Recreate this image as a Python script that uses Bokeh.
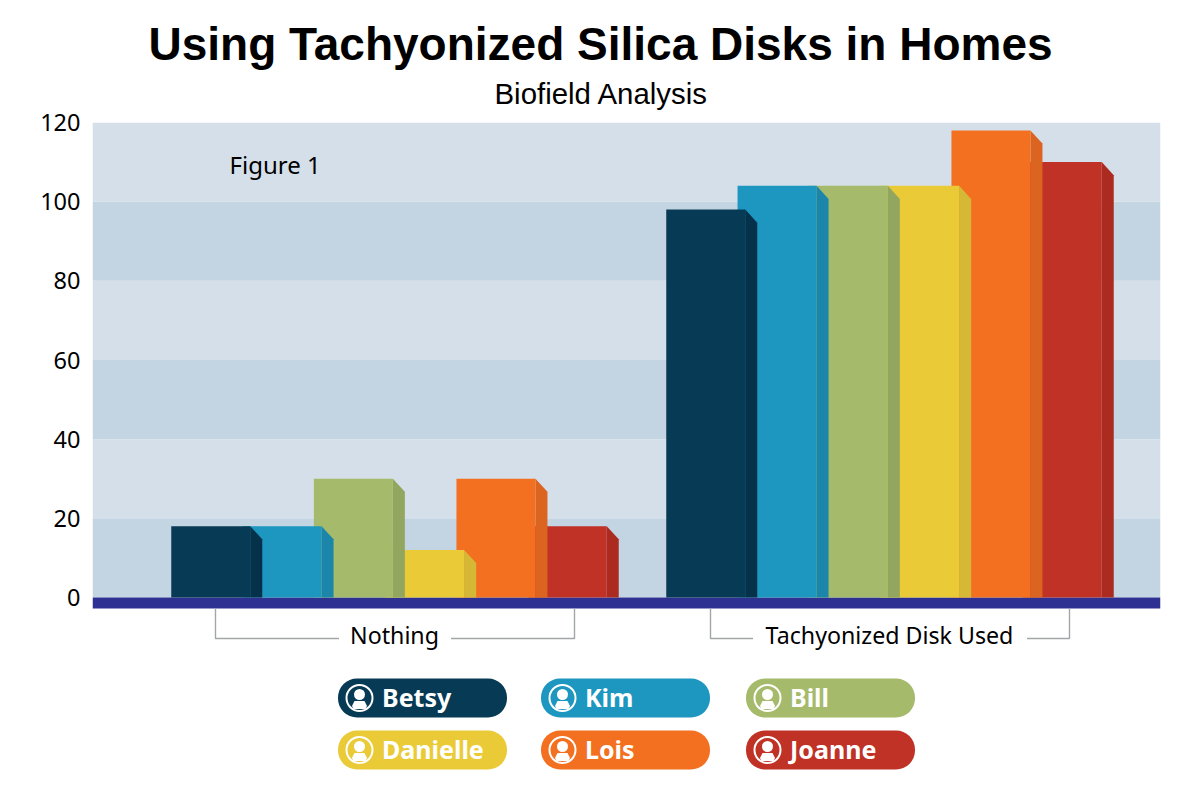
from bokeh.plotting import figure
from bokeh.models import Range1d, Title, FixedTicker
from bokeh.core.properties import value
from bokeh.embed import file_html
from bokeh.resources import INLINE

# --- data -------------------------------------------------------------
GROUPS = ["Nothing", "Tachyonized Disk Used"]
PEOPLE = ["Betsy", "Kim", "Bill", "Danielle", "Lois", "Joanne"]
NOTHING = [18, 18, 30, 12, 30, 18]
DISK_USED = [98, 104, 104, 104, 118, 110]
Y_TICKS = [0, 20, 40, 60, 80, 100, 120]

FRONT = ["#073a54", "#1d96c0", "#a5ba6a", "#eacb37", "#f47021", "#c03126"]
SIDE = ["#05324a", "#1b86aa", "#93a65f", "#d5b835", "#db6420", "#ab2b20"]
BAND_LIGHT, BAND_DARK, BASE = "#d5dfe9", "#c3d5e3", "#2e3192"
BRACKET = "#a3a6a8"
TEXT_FONT = "Noto Sans"

# --- layout constants (x units are page pixels) -------------------------
GROUP_X = [394.5, 889.5]
STEP, BAR_W, DEPTH_X, DEPTH_Y = 71.3, 79, 12, 3.3
XR = Range1d(92, 1160)
W, H = 1170, 790
PX = 475 / 120                 # pixels per value unit
Y_MIN = -(H - 597) / PX
BASE_BOTTOM = -11 / PX


def below(px):
    """Value-axis position of a point px pixels under the zero line."""
    return -px / PX


p = figure(width=W, height=H, x_range=XR, y_range=Range1d(Y_MIN, 120),
           output_backend="svg", toolbar_location=None, x_axis_location=None,
           min_border_top=122, min_border_bottom=0, min_border_left=92, min_border_right=10,
           outline_line_color=None, background_fill_color="#ffffff")
p.title = None

sub = Title(text="Biofield Analysis", align="left", offset=402, standoff=26,
            text_font="Liberation Sans", text_font_size="29.4px",
            text_font_style="normal", text_color="#000000")
ttl = Title(text="Using Tachyonized Silica Disks in Homes", align="left", offset=56, standoff=-16,
            text_font="Liberation Sans", text_font_size="46px",
            text_font_style="bold", text_color="#000000")
p.add_layout(sub, "above")
p.add_layout(ttl, "above")

p.grid.visible = False
ax = p.yaxis[0]
ax.ticker = FixedTicker(ticks=Y_TICKS)
ax.axis_line_color = None
ax.major_tick_line_color = None
ax.minor_tick_line_color = None
ax.major_tick_out = 0
ax.major_tick_in = 0
ax.major_label_text_font = TEXT_FONT
ax.major_label_text_font_size = "23.5px"
ax.major_label_text_color = "#000000"
ax.major_label_standoff = 12

# background bands, one per tick interval
lows, highs = Y_TICKS[:-1], Y_TICKS[1:]
p.quad(left=XR.start, right=XR.end, bottom=lows, top=highs,
       fill_color=[BAND_DARK if i % 2 == 0 else BAND_LIGHT for i in range(len(lows))],
       line_color=None)
p.quad(left=XR.start, right=XR.end, bottom=BASE_BOTTOM, top=0, fill_color=BASE, line_color=None)

# bars: leftmost bar on top, so draw from right to left
for gx, vals in zip(GROUP_X, [NOTHING, DISK_USED]):
    x0 = gx - (5 * STEP + BAR_W + DEPTH_X) / 2
    for i in reversed(range(len(PEOPLE))):
        left = x0 + i * STEP
        right = left + BAR_W
        v = vals[i]
        p.patch([right, right + DEPTH_X, right + DEPTH_X, right],
                [v, v - DEPTH_Y, 0, 0], fill_color=SIDE[i], line_color=None)
        p.quad(left=left, right=right, bottom=0, top=v, fill_color=FRONT[i], line_color=None)

p.text(x=[229], y=[109.3], text=["Figure 1"], text_font=value(TEXT_FONT),
       text_font_size="24px", text_color="#000000", text_baseline="middle")

# group brackets under the base band
HALF, BR_TOP, BR_Y = 179.5, 11, 41
GAP = {"Nothing": 56, "Tachyonized Disk Used": 137}
for gx, g in zip(GROUP_X, GROUPS):
    ys = [below(BR_TOP), below(BR_Y), below(BR_Y)]
    p.line([gx - HALF, gx - HALF, gx - GAP[g]], ys, line_color=BRACKET, line_width=1.4)
    p.line([gx + HALF, gx + HALF, gx + GAP[g]], ys, line_color=BRACKET, line_width=1.4)
    p.text(x=[gx - 0.5], y=[below(BR_Y - 4)], text=[g], text_font=value(TEXT_FONT),
           text_font_size="23.2px", text_color="#000000", text_align="center",
           text_baseline="middle")

# legend pills
PILL_L = [337.5, 540.5, 745.5]
PILL_W, PILL_H = 169, 39
ROW_T = [81, 133]
for i, name in enumerate(PEOPLE):
    l = PILL_L[i % 3]
    t = ROW_T[i // 3]
    p.quad(left=l, right=l + PILL_W, top=below(t), bottom=below(t + PILL_H), fill_color=FRONT[i],
           line_color=None, border_radius=19)
    cx, cy = l + 21.5, t + 19.5
    p.scatter([cx], [below(cy)], size=26, marker="circle", fill_color=None,
              line_color="#ffffff", line_width=2)
    p.scatter([cx], [below(cy - 3.5)], size=11, marker="circle", fill_color="#ffffff", line_color=None)
    body_x = [cx - 7.5, cx - 5, cx + 5, cx + 7.5, cx + 6, cx - 6]
    body_y = [below(cy + d) for d in (8, 3, 3, 8, 11, 11)]
    p.patch(body_x, body_y, fill_color="#ffffff", line_color=None)
    p.text(x=[l + 44], y=[below(t + 18)], text=[name], text_font=value(TEXT_FONT),
           text_font_size="25px", text_font_style="bold", text_color="#ffffff",
           text_baseline="middle")

open("out.html", "w").write(file_html(p, INLINE))
